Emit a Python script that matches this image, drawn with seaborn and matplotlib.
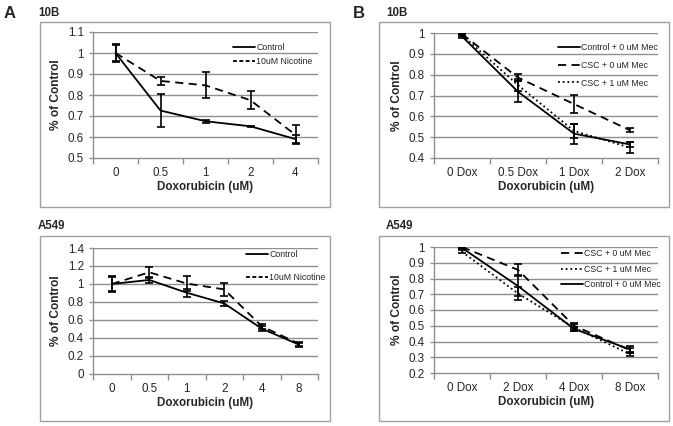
import numpy as np
import pandas as pd
import matplotlib
matplotlib.use("Agg")
import matplotlib.pyplot as plt
import seaborn as sns
from matplotlib.patches import Rectangle
from matplotlib.lines import Line2D

# ---------------- data ----------------
a_top_cats = ["0", "0.5", "1", "2", "4"]
a_top_control = [1.0, 0.726, 0.675, 0.651, 0.590]
a_top_control_err = [0.042, 0.08, 0.008, 0.003, 0.02]
a_top_nic = [1.0, 0.867, 0.846, 0.775, 0.61]
a_top_nic_err = [0.04, 0.018, 0.062, 0.042, 0.045]

a_bot_cats = ["0", "0.5", "1", "2", "4", "8"]
a_bot_control = [1.0, 1.045, 0.903, 0.784, 0.504, 0.325]
a_bot_control_err = [0.08, 0.035, 0.045, 0.03, 0.03, 0.02]
a_bot_nic = [1.0, 1.13, 1.005, 0.94, 0.53, 0.335]
a_bot_nic_err = [0.087, 0.06, 0.08, 0.075, 0.03, 0.02]

b_top_cats = ["0 Dox", "0.5 Dox", "1 Dox", "2 Dox"]
b_top_control = [0.984, 0.718, 0.517, 0.465]
b_top_control_err = [0.01, 0.05, 0.048, 0.01]
b_top_csc0 = [0.995, 0.786, 0.659, 0.533]
b_top_csc0_err = [0.005, 0.015, 0.045, 0.01]
b_top_csc1 = [0.99, 0.75, 0.53, 0.45]
b_top_csc1_err = [0.005, 0.03, 0.035, 0.025]

b_bot_cats = ["0 Dox", "2 Dox", "4 Dox", "8 Dox"]
b_bot_control = [0.994, 0.752, 0.48, 0.35]
b_bot_control_err = [0.005, 0.065, 0.015, 0.02]
b_bot_csc0 = [1.0, 0.855, 0.5, 0.345]
b_bot_csc0_err = [0.005, 0.035, 0.02, 0.015]
b_bot_csc1 = [0.97, 0.705, 0.488, 0.32]
b_bot_csc1_err = [0.01, 0.04, 0.02, 0.015]

sns.set_theme(style="white")
plt.rcParams["font.family"] = ["Liberation Sans", "DejaVu Sans"]

W, H = 673, 426
fig = plt.figure(figsize=(W / 100, H / 100), dpi=100)
GRAY = "#8f8f8f"


def ax_at(l, r, t, b):
    return fig.add_axes([l / W, 1 - b / H, (r - l) / W, (b - t) / H])


def frame(l, r, t, b):
    fig.patches.append(Rectangle((l / W, 1 - b / H), (r - l) / W, (b - t) / H,
                                 transform=fig.transFigure, fill=False,
                                 edgecolor="#a0a0a0", linewidth=1.0))


SOLID = ""
DASH = (4.5, 3)
DOT = (1, 1.6)
SHORTDASH = (2.2, 1.3)


def panel(ax, cats, series, ylim, ystep, legend_order, leg_dash, leg_xy, leg_space):
    n = len(cats)
    x = np.arange(n)
    ax.set_ylim(*ylim)
    ax.set_xlim(-0.5, n - 0.5)
    yt = np.round(np.arange(ylim[0], ylim[1] + 1e-9, ystep), 3)
    ax.set_yticks(yt)
    ax.set_yticklabels([f"{v:g}" for v in yt])
    for v in yt[1:]:
        ax.axhline(v, color=GRAY, lw=1.0, zorder=0)
    for label, vals, errs, dash in series:
        df = pd.DataFrame({"x": x, "y": vals})
        sns.lineplot(data=df, x="x", y="y", ax=ax, color="black", lw=1.3,
                     label=label, legend=False)
        ln = ax.lines[-1]
        if dash:
            ln.set_dashes(dash)
        ax.errorbar(x, vals, yerr=errs, fmt="none", ecolor="black",
                    elinewidth=1.2, capsize=2.8, capthick=1.2)
    handles = []
    for k in legend_order:
        d = leg_dash[k]
        h = Line2D([0], [0], color="black", lw=1.3)
        if d:
            h.set_dashes(d)
        handles.append(h)
    ax.set_xticks(np.arange(n + 1) - 0.5)
    ax.set_xticklabels([])
    ax.set_xticks(x, minor=True)
    ax.set_xticklabels(cats, minor=True)
    ax.tick_params(axis="x", which="major", direction="out", length=4,
                   color=GRAY, width=1, bottom=True)
    ax.tick_params(axis="x", which="minor", length=0, pad=6.5, labelsize=8.4)
    ax.tick_params(axis="y", direction="out", length=3, color=GRAY,
                   width=1, left=True, labelsize=8.4, pad=3.5)
    for s in ["top", "right"]:
        ax.spines[s].set_visible(False)
    for s in ["left", "bottom"]:
        ax.spines[s].set_color(GRAY)
        ax.spines[s].set_linewidth(1.0)
    ax.set_xlabel("Doxorubicin (uM)", fontsize=8.4, fontweight="bold", labelpad=1.5)
    ax.set_ylabel("% of Control", fontsize=8.6, fontweight="bold", labelpad=4)
    ax.legend(handles, legend_order,
              loc="upper left",
              bbox_to_anchor=(leg_xy[0] / W, 1 - leg_xy[1] / H),
              bbox_transform=fig.transFigure,
              frameon=False, fontsize=6.3, handlelength=2.5,
              handletextpad=0.15, labelspacing=leg_space,
              borderaxespad=0, borderpad=0)
    return ax


# frames
frame(40, 330, 22, 207)
frame(40, 330, 236, 421)
frame(379, 669, 22, 207)
frame(379, 669, 236, 421)

a_leg = {"Control": SOLID, "10uM Nicotine": SHORTDASH}
b_leg = {"Control + 0 uM Mec": SOLID, "CSC + 0 uM Mec": DASH, "CSC + 1 uM Mec": DOT}

# A top
ax1 = ax_at(93, 318, 32, 158)
panel(ax1, a_top_cats,
      [("Control", a_top_control, a_top_control_err, SOLID),
       ("10uM Nicotine", a_top_nic, a_top_nic_err, DASH)],
      (0.5, 1.1), 0.1, ["Control", "10uM Nicotine"], a_leg, (233, 43), 0.6)

# A bottom
ax2 = ax_at(93, 318, 248, 374)
panel(ax2, a_bot_cats,
      [("Control", a_bot_control, a_bot_control_err, SOLID),
       ("10uM Nicotine", a_bot_nic, a_bot_nic_err, DASH)],
      (0.0, 1.4), 0.2, ["Control", "10uM Nicotine"], a_leg, (246, 250), 1.6)

# B top
ax3 = ax_at(434, 658, 33, 158)
panel(ax3, b_top_cats,
      [("Control + 0 uM Mec", b_top_control, b_top_control_err, SOLID),
       ("CSC + 0 uM Mec", b_top_csc0, b_top_csc0_err, DASH),
       ("CSC + 1 uM Mec", b_top_csc1, b_top_csc1_err, DOT)],
      (0.4, 1.0), 0.1,
      ["Control + 0 uM Mec", "CSC + 0 uM Mec", "CSC + 1 uM Mec"], b_leg, (558, 43), 1.0)

# B bottom
ax4 = ax_at(434, 658, 247, 373)
panel(ax4, b_bot_cats,
      [("Control + 0 uM Mec", b_bot_control, b_bot_control_err, SOLID),
       ("CSC + 0 uM Mec", b_bot_csc0, b_bot_csc0_err, DASH),
       ("CSC + 1 uM Mec", b_bot_csc1, b_bot_csc1_err, DOT)],
      (0.2, 1.0), 0.1,
      ["CSC + 0 uM Mec", "CSC + 1 uM Mec", "Control + 0 uM Mec"], b_leg, (561, 249), 0.75)

# titles
fig.text(38 / W, 1 - 13 / H, "10B", fontsize=8.3, fontweight="bold", va="center")
fig.text(38 / W, 1 - 226 / H, "A549", fontsize=8.3, fontweight="bold", va="center")
fig.text(386 / W, 1 - 13 / H, "10B", fontsize=8.3, fontweight="bold", va="center")
fig.text(386 / W, 1 - 226 / H, "A549", fontsize=8.3, fontweight="bold", va="center")
fig.text(4 / W, 1 - 13 / H, "A", fontsize=12, fontweight="bold", va="center")
fig.text(353 / W, 1 - 13 / H, "B", fontsize=12, fontweight="bold", va="center")

fig.savefig("out.png", dpi=100)
